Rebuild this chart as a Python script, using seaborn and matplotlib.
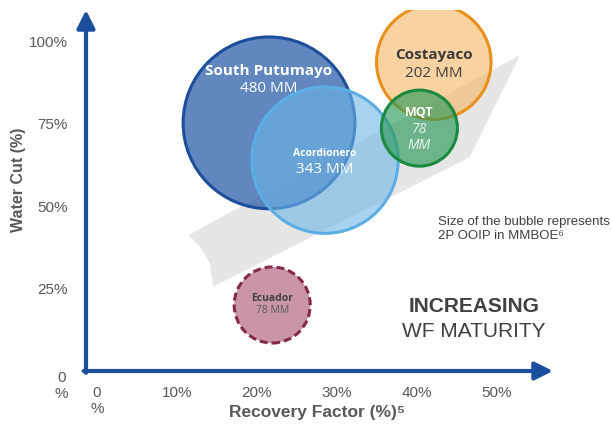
import pandas as pd
import matplotlib.pyplot as plt
import seaborn as sns
from matplotlib.colors import to_rgba

# Bubble data: recovery factor (%), water cut (%), 2P OOIP (MMBOE)
fields = ['South Putumayo', 'Acordionero', 'Costayaco', 'MQT', 'Ecuador']
recovery = [21.5, 28.5, 42.1, 40.3, 21.9]
water_cut = [75.2, 63.9, 93.6, 73.6, 20.0]
ooip = [480, 343, 202, 78, 78]
value_labels = ['480 MM', '343 MM', '202 MM', '78\nMM', '78 MM']

x_ticks = [0, 10, 20, 30, 40, 50]
x_tick_labels = ['0\n%', '10%', '20%', '30%', '40%', '50%']
y_ticks = [0, 25, 50, 75, 100]
y_tick_labels = ['0\n%', '25%', '50%', '75%', '100%']

# gray "increasing maturity" arrow band (data coords)
band_x = [11.4, 52.9, 46.6, 14.5, 14.1, 12.9]
band_y = [41.2, 95.8, 64.8, 25.5, 32.7, 37.6]

df = pd.DataFrame({'field': fields, 'recovery': recovery,
                   'water_cut': water_cut, 'ooip': ooip})

fills = ['#2E5FA8', '#6DB6E8', '#F5B562', '#2E9A5A', '#A8506D']
fill_alpha = [0.75, 0.6, 0.6, 0.65, 0.6]
edges = ['#1B4E9B', '#5AAEE3', '#E8901A', '#1A8A3C', '#86294D']

sns.set_theme(style='white')
plt.rcParams['font.family'] = ['Liberation Sans', 'DejaVu Sans']

fig = plt.figure(figsize=(6.11, 4.28), dpi=100)
ax = fig.add_axes([86 / 611, 57 / 428, 467 / 611, 361 / 428])

ax.fill(band_x, band_y, color='#E6E6E6', zorder=1, lw=0)

sns.scatterplot(data=df, x='recovery', y='water_cut', size='ooip',
                sizes=(3000, 15300), legend=False, ax=ax, zorder=2)
pts = ax.collections[-1]
pts.set_facecolor([to_rgba(c, a) for c, a in zip(fills, fill_alpha)])
pts.set_edgecolor(edges)
pts.set_linewidth(2.2)
pts.set_linestyle(['-', '-', '-', '-', (0, (2.6, 1.3))])

# bubble labels
lab = 'Open Sans'
name_dy = [37, 5, 5, 11, 5]
val_dy = [24.5, -7, -8, -7, -3.6]
name_fs = [11, 7.5, 11, 9, 7.5]
val_fs = [11, 11, 11, 10, 7.5]
name_col = ['white', 'white', '#3A3A3A', 'white', '#404040']
val_col = ['white', 'white', '#404040', '#EAF5EE', '#595959']
val_style = ['normal', 'normal', 'normal', 'italic', 'normal']
for i, f in enumerate(fields):
    xy = (recovery[i], water_cut[i])
    ax.annotate(f, xy, xytext=(0, name_dy[i]), textcoords='offset points',
                ha='center', va='center', fontsize=name_fs[i], fontweight='bold',
                color=name_col[i], family=lab, zorder=5)
    ax.annotate(value_labels[i], xy, xytext=(0, val_dy[i]), textcoords='offset points',
                ha='center', va='center', fontsize=val_fs[i], color=val_col[i],
                style=val_style[i], family=lab, zorder=5, linespacing=1.1)

# axes drawn as arrows
axis_col = '#1B4F9C'
for sp in ax.spines.values():
    sp.set_visible(False)
arrow = dict(arrowstyle='-|>,head_length=0.9,head_width=0.45',
             color=axis_col, lw=3, shrinkA=0, shrinkB=0)
ax.annotate('', xy=(0, 1), xytext=(0, -0.005), xycoords='axes fraction', arrowprops=arrow)
ax.annotate('', xy=(1, 0), xytext=(-0.005, 0), xycoords='axes fraction', arrowprops=arrow)

ax.set_xlim(-1.375, 57)
ax.set_ylim(0, 109.4)
ax.set_xticks(x_ticks)
ax.set_xticklabels(x_tick_labels)
ax.set_yticks(y_ticks)
ax.set_yticklabels(y_tick_labels)
ax.tick_params(axis='both', length=0, labelsize=11, labelcolor='#595959')
ax.tick_params(axis='x', pad=11)
ax.tick_params(axis='y', pad=13)
zero_lab = ax.get_yticklabels()[0]
zero_lab.set_va('top')
zero_lab.set_multialignment('center')

ax.set_xlabel('Recovery Factor (%)⁵', fontsize=12.5, fontweight='bold', color='#595959')
ax.set_ylabel('Water Cut (%)', fontsize=11.5, fontweight='bold', color='#595959')
ax.xaxis.set_label_coords(0.495, -0.095)
ax.yaxis.set_label_coords(-0.128, 0.529)

ax.text(438, 212, 'Size of the bubble represents\n2P OOIP in MMBOE⁶',
        transform=None, fontsize=9.5, color='#404040', va='top', ha='left')
ax.text(0.83, 0.18, 'INCREASING', transform=ax.transAxes, ha='center', va='center',
        fontsize=15, fontweight='bold', color='#404040')
ax.text(0.83, 0.11, 'WF MATURITY', transform=ax.transAxes, ha='center', va='center',
        fontsize=15, color='#404040')

fig.savefig('out.png', dpi=100)
